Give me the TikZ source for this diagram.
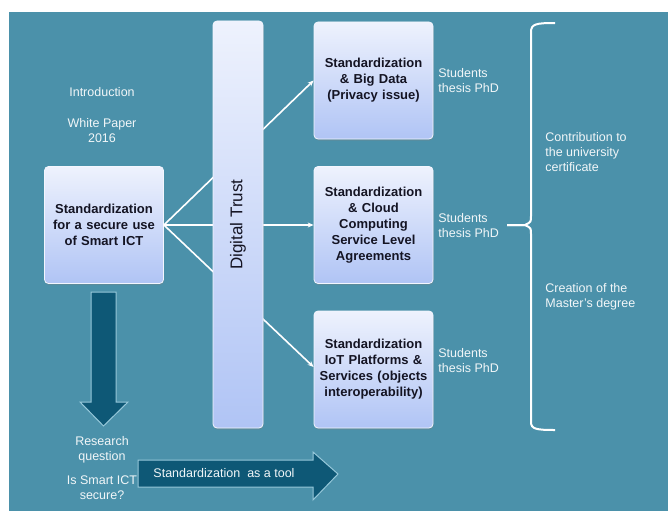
\documentclass[tikz,border=0pt]{standalone}
\usepackage{fontspec}
\setmainfont{Liberation Sans}
\usetikzlibrary{arrows.meta,shadows}
\definecolor{teal1}{RGB}{75,145,170}
\definecolor{deep}{RGB}{14,88,118}
\definecolor{rim}{RGB}{150,200,218}
\definecolor{boxtop}{RGB}{238,242,253}
\definecolor{boxbot}{RGB}{176,196,245}
\definecolor{ink}{RGB}{20,20,35}
\tikzset{every path/.style={thick}}
\tikzset{
  lbox/.style={rounded corners=4pt,draw=white!85!boxbot,line width=0.8pt,
    top color=boxtop,bottom color=boxbot,minimum width=119pt,minimum height=117pt,
    drop shadow={opacity=0.35,shadow xshift=0.5pt,shadow yshift=-1.5pt},
    align=center,text width=115pt,text=ink,font=\fontsize{13}{16}\selectfont\bfseries,inner sep=0pt},
  wtext/.style={text=white!92!teal1,align=center,font=\fontsize{12.5}{15}\selectfont,inner sep=0pt},
  wleft/.style={wtext,align=left,anchor=west},
  link/.style={white,line width=1.6pt,-{Stealth[length=6pt,width=5pt]}},
  blockarrow/.style={fill=deep,draw=rim,line width=1pt,line join=miter}
}

\begin{document}
\begin{tikzpicture}[x=1pt,y=-1pt]
\useasboundingbox (0,0) rectangle (668,511);
\fill[teal1] (9,12) rectangle (668,511);

\node[wtext] (intro) at (102,92) {Introduction};
\node[wtext] (paper) at (102,131) {White Paper\\2016};

\node[lbox] (std) at (104,225) {Standardization\\for a secure use\\of Smart ICT};
\node[lbox] (bigdata) at (373.5,80.5) {Standardization\\\& Big Data\\(Privacy issue)};
\node[lbox] (cloud) at (373.5,225) {Standardization\\\& Cloud\\Computing\\Service Level\\Agreements};
\node[lbox] (iot) at (373.5,369.5) {Standardization\\IoT Platforms \&\\Services (objects\\interoperability)};

% links go under the bar
\draw[link] (std.east) -- (bigdata.west);
\draw[link] (std.east) -- (cloud.west);
\draw[link] (std.east) -- (iot.west |- 0,367);

\node[lbox,minimum width=50pt,minimum height=407pt,text width=48pt] (trust) at (238,224.5) {};
\node[rotate=90,text=ink,font=\fontsize{17}{20}\selectfont] (trustlabel) at (trust.center) {Digital Trust};

\node[wleft] (phd1) at (438,80.5) {Students\\thesis PhD};
\node[wleft] (phd2) at (438,225.5) {Students\\thesis PhD};
\node[wleft] (phd3) at (438,360.5) {Students\\thesis PhD};

% brace
\coordinate (bracetip) at (507,225);
\draw[white,line width=2pt] (555,23) .. controls (536,23) and (531,24) .. (531,32)
  -- (531,216) .. controls (531,222) .. (525,225) -- (bracetip);
\draw[white,line width=2pt] (bracetip) -- (525,225) .. controls (531,228) .. (531,234)
  -- (531,422) .. controls (531,429) and (536,430) .. (555,430);

\node[wleft] (contrib) at (545,152) {Contribution to\\the university\\certificate};
\node[wleft] (master) at (545,297) {Creation of the\\Master's degree};

% block arrows
\draw[blockarrow] (91,292) -- (116,292) -- (116,402) -- (128,402) -- (103.5,426) -- (80,402) -- (91,402) -- cycle;
\draw[blockarrow] (138,460) -- (313,460) -- (313,452) -- (338,474) -- (313,500) -- (313,487) -- (138,487) -- cycle;
\node[wtext] (tool) at (224,473.5) {Standardization\ \ as a tool};

\node[wtext] (question) at (102,449.5) {Research\\question};
\node[wtext] (secure) at (102,488) {Is Smart ICT\\secure?};
\end{tikzpicture}
\end{document}
